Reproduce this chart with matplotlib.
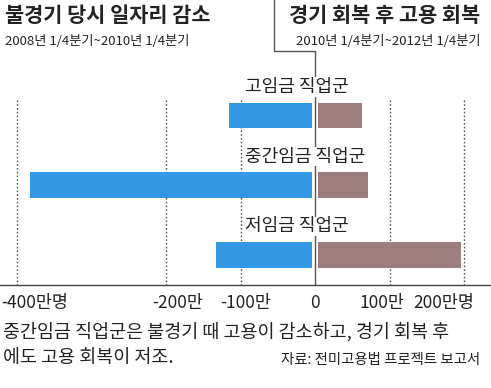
import matplotlib
matplotlib.use("Agg")
import matplotlib.pyplot as plt

plt.rcParams['font.family'] = ['Noto Sans CJK KR', 'DejaVu Sans']

# data (만명)
groups = ["고임금 직업군", "중간임금 직업군", "저임금 직업군"]
recession = [-115, -383, -133]      # 2008 1/4 ~ 2010 1/4
recovery = [63, 71, 196]            # 2010 1/4 ~ 2012 1/4
grid_vals = [-400, -200, -100, 100, 200]
tick_labels = ["-400만명", "-200만", "-100만", "0", "100만", "200만명"]
tick_pos = [-376, -185, -93, 0, 89, 172]

blue = "#3197e2"
brown = "#9c7e7e"
ink = "#222222"
gap = 4

fig = plt.figure(figsize=(4.91, 3.88), dpi=100)
ax = fig.add_axes([0, 0.2655, 1, 0.6031])
ax.set_xlim(-423, 236)
ax.set_ylim(2.433, -0.925)

ys = list(range(len(groups)))
ax.vlines(grid_vals, -0.22, 2.433, colors="#555555", linestyles=(0, (1.2, 1.5)), linewidth=1)
ax.vlines([0], -0.925, 2.433, colors="#555555", linewidth=1, zorder=1)

ax.barh(ys, [v + gap for v in recession], left=-gap, height=0.366, color=blue, zorder=3)
ax.barh(ys, [v - gap for v in recovery], left=gap, height=0.366, color=brown, zorder=3)

for y, name in zip(ys, groups):
    ax.text(-94, y - 0.41, name, fontsize=13, color=ink, va="center", ha="left",
            zorder=4, bbox=dict(facecolor="white", edgecolor="none", pad=0.5))

# bracket from right title down to zero line
ax.plot([-55, -55, 0], [-1.7, -0.925, -0.925], color="#555555", linewidth=1, clip_on=False)

for x, lab in zip(tick_pos, tick_labels):
    ax.text(x, 2.69, lab, fontsize=12.5, color=ink, ha="center", va="center", clip_on=False)

for s in ["top", "left", "right"]:
    ax.spines[s].set_visible(False)
ax.spines["bottom"].set_color("#444444")
ax.spines["bottom"].set_linewidth(1)
ax.set_xticks([])
ax.set_yticks([])

fig.text(0.010, 0.961, "불경기 당시 일자리 감소", fontsize=15, fontweight="bold", color=ink, va="center")
fig.text(0.010, 0.894, "2008년 1/4분기~2010년 1/4분기", fontsize=9.5, color=ink, va="center")
fig.text(0.978, 0.961, "경기 회복 후 고용 회복", fontsize=15, fontweight="bold", color=ink, va="center", ha="right")
fig.text(0.978, 0.894, "2010년 1/4분기~2012년 1/4분기", fontsize=9.5, color=ink, va="center", ha="right")

fig.text(0.006, 0.144, "중간임금 직업군은 불경기 때 고용이 감소하고, 경기 회복 후", fontsize=13.3, color=ink, va="center")
fig.text(0.006, 0.077, "에도 고용 회복이 저조.", fontsize=13.3, color=ink, va="center")
fig.text(0.978, 0.072, "자료: 전미고용법 프로젝트 보고서", fontsize=10.4, color=ink, va="center", ha="right")

fig.savefig("out.png", dpi=100, facecolor="white")
